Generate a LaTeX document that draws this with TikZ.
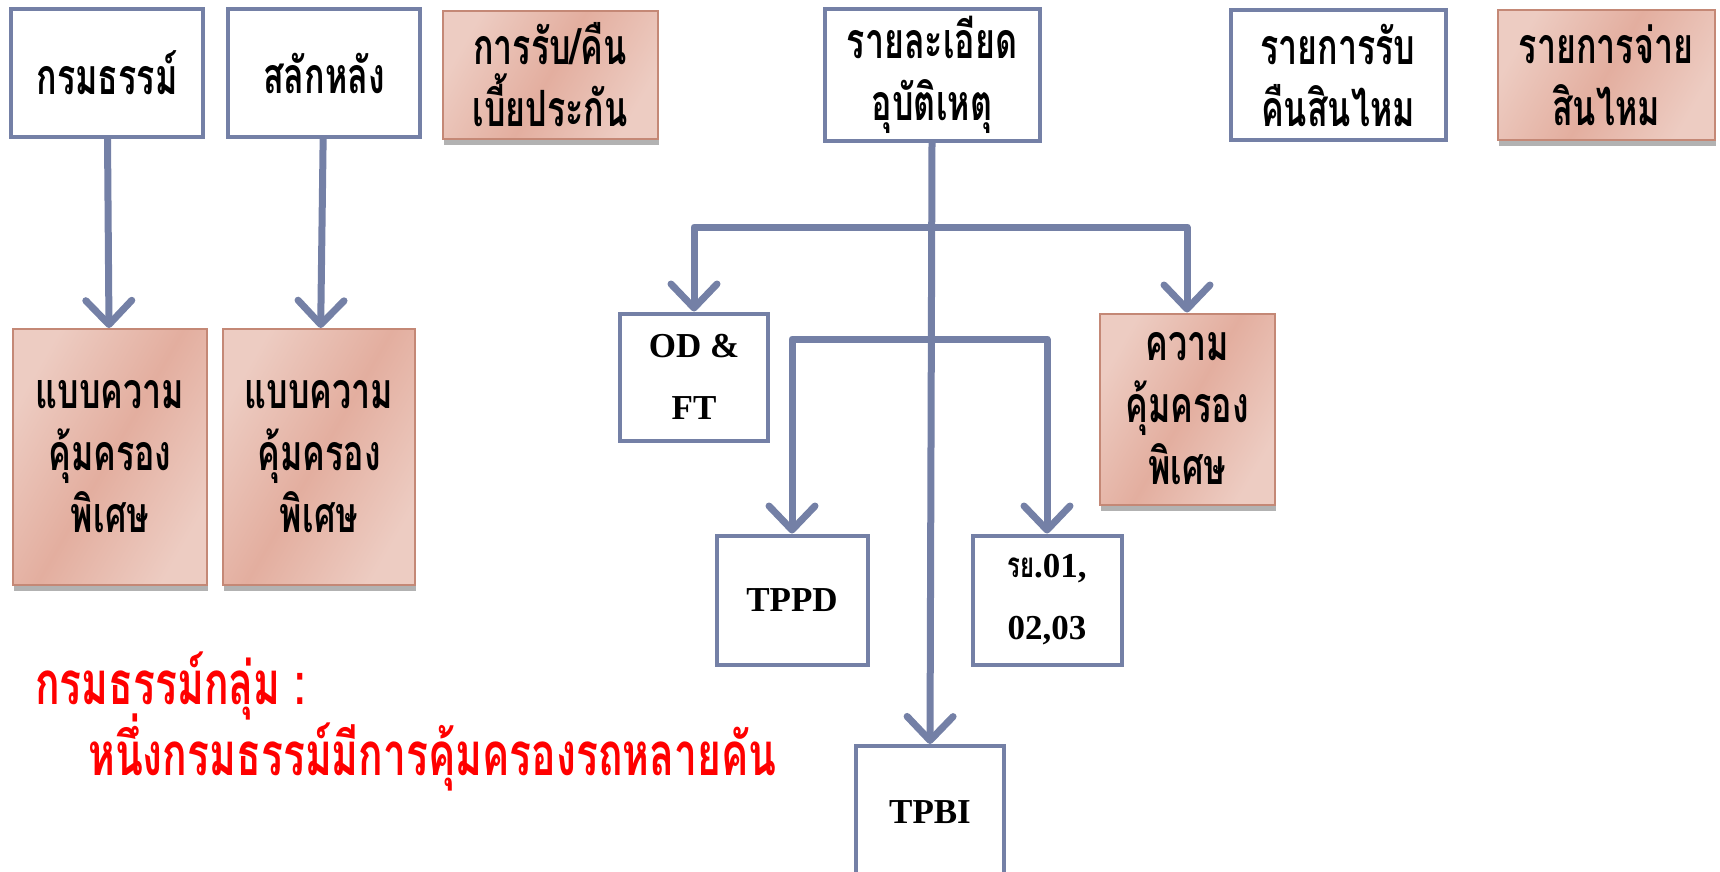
\documentclass[tikz,border=0pt]{standalone}
\usepackage{fontspec}
\setmainfont{Liberation Serif}
\newfontfamily\thaifont[Script=Thai,FakeStretch=0.68]{Loma}
\usetikzlibrary{arrows.meta,shadows}

\definecolor{linienblau}{HTML}{7480A6}
\definecolor{rosahell}{HTML}{EDCCC2}
\definecolor{rosadunkel}{HTML}{E3AE9F}
\definecolor{rosarand}{HTML}{C48876}
\definecolor{signalrot}{HTML}{FF0000}

\newcommand{\engzeilen}{\lineskiplimit=-100pt\relax}

\tikzset{
	kasten/.style={rectangle, align=center, inner sep=0pt,
		font=\thaifont\bfseries\fontsize{50}{62}\selectfont\engzeilen},
	weiss/.style={kasten, draw=linienblau, line width=4pt, fill=white},
	rosa/.style={kasten, draw=rosarand, line width=2pt,
		top color=rosahell, bottom color=rosahell, middle color=rosadunkel,
		shading angle=60,
		drop shadow={shadow xshift=1pt, shadow yshift=-6pt, opacity=0.3, fill=black}},
	latein/.style={font=\bfseries\fontsize{35}{62}\selectfont},
	pfeil/.style={draw=linienblau, line width=7pt, line join=round,
		-{Straight Barb[length=24pt, width=46pt, round]}}
}

\begin{document}
\begin{tikzpicture}[x=1pt, y=-1pt]
	\useasboundingbox (0,0) rectangle (1720,872);

	% obere Reihe
	\node[weiss, minimum width=192pt, minimum height=128pt] (polizze) at (107,73) {กรมธรรม์};
	\node[weiss, minimum width=192pt, minimum height=128pt] (nachtrag) at (324,73) {สลักหลัง};
	\node[rosa, minimum width=215pt, minimum height=128pt] (praemie) at (550,75) {การรับ/คืน\\เบี้ยประกัน};
	\node[weiss, minimum width=215pt, minimum height=131pt] (unfall) at (932,75) {รายละเอียด\\อุบัติเหตุ};
	\node[weiss, minimum width=215pt, minimum height=129pt] (rueckgabe) at (1338,75) {รายการรับ\\คืนสินไหม};
	\node[rosa, minimum width=217pt, minimum height=129pt] (zahlung) at (1606,75) {รายการจ่าย\\สินไหม};

	% Deckungen links
	\node[rosa, minimum width=194pt, minimum height=256pt] (deckung1) at (110,457) {แบบความ\\คุ้มครอง\\พิเศษ};
	\node[rosa, minimum width=192pt, minimum height=256pt] (deckung2) at (319,457) {แบบความ\\คุ้มครอง\\พิเศษ};

	% Baum unter dem Unfall
	\node[weiss, latein, minimum width=148pt, minimum height=127pt] (odft) at (694,377) {OD \&\\FT};
	\node[rosa, minimum width=175pt, minimum height=191pt] (sonder) at (1187,409) {ความ\\คุ้มครอง\\พิเศษ};
	\node[weiss, latein, minimum width=151pt, minimum height=129pt] (tppd) at (792,600) {TPPD};
	\node[weiss, latein, minimum width=149pt, minimum height=129pt] (ry) at (1047,600) {{\thaifont รย}.01,\\02,03};
	\node[weiss, latein, minimum width=148pt, minimum height=132pt] (tpbi) at (930,812) {TPBI};

	% Hinweis
	\node[anchor=north west, align=left, text=signalrot, inner sep=0pt,
		font=\thaifont\bfseries\fontsize{60}{71}\selectfont\engzeilen] (hinweis) at (35,652)
		{กรมธรรม์กลุ่ม :\\\hspace*{53pt}หนึ่งกรมธรรม์มีการคุ้มครองรถหลายคัน};

	% Pfeile
	\draw[pfeil] (polizze) -- (deckung1);
	\draw[pfeil] (nachtrag) -- (deckung2);
	\coordinate (ast1) at (932,227);
	\coordinate (ast2) at (932,339);
	\draw[pfeil] (unfall.south) -- (tpbi.north);
	\draw[pfeil] (ast1) -| (odft.north);
	\draw[pfeil] (ast1) -| (sonder.north);
	\draw[pfeil] (ast2) -| (tppd.north);
	\draw[pfeil] (ast2) -| (ry.north);
\end{tikzpicture}
\end{document}
